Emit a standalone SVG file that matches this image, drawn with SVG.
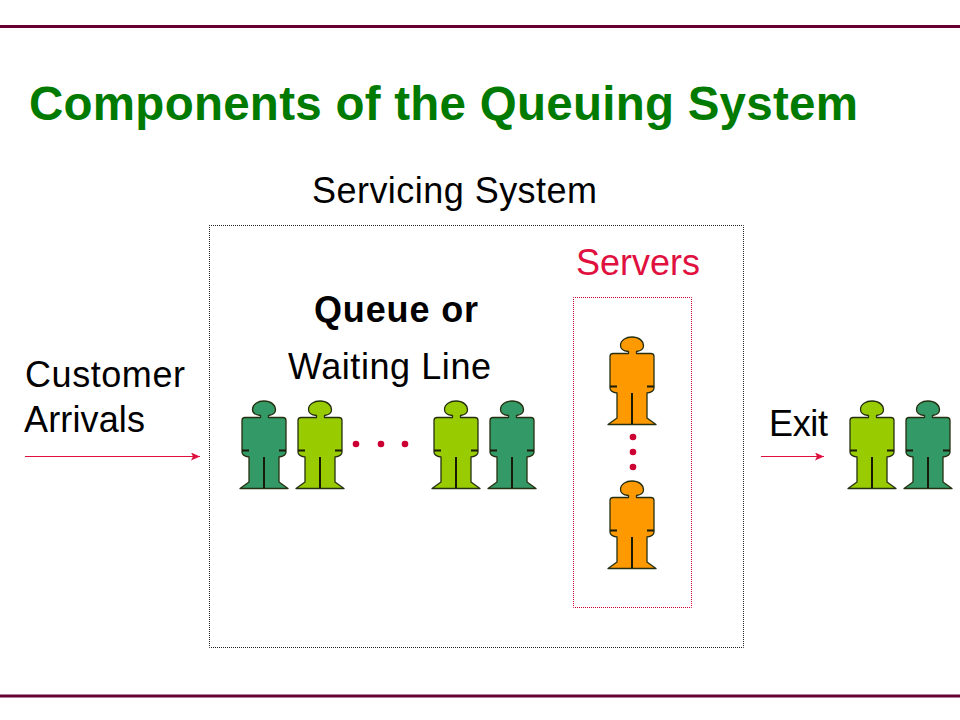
<svg xmlns="http://www.w3.org/2000/svg" width="960" height="720" viewBox="0 0 960 720">
<style>
text{font-family:"Liberation Sans",Arial,sans-serif;font-size:36px;fill:#000}
.rule{stroke:#660033;stroke-width:3;fill:none}
.p{stroke:#263010;stroke-width:1.300;stroke-linejoin:round}
.in{stroke:#1a1a08;stroke-width:2;fill:none}
.g{fill:#339966}.l{fill:#99cc00}.o{fill:#ff9900}
.dot{fill:#cc0033}
.arrow{stroke:#e0103f;stroke-width:1;fill:none;marker-end:url(#ah)}
.frame{fill:none;stroke:#222;stroke-width:1;stroke-dasharray:1 1;stroke-dashoffset:.5}
.frame-red{fill:none;stroke:#cc0033;stroke-width:1;stroke-dasharray:1 1;stroke-dashoffset:.5}
</style>
<defs>
<marker id="ah" markerUnits="userSpaceOnUse" markerWidth="10" markerHeight="8" refX="9" refY="4" orient="auto"><path d="M0 0L9 4L0 8L2 4Z" fill="#e0103f"/></marker>
<g id="person">
<path d="M-3.500 14.500C-9 14-11.500 11.500-11.500 8.500C-11.500 3-6 0 0 0C7 0 11.500 4 11.500 9C11.500 12 8 14 4.500 14.500L4.500 16.500L19 16.500Q22 16.500 22 19.500L22 51Q22 55 15 56L15 81L24 87.500L-24 87.500L-15 81L-15 56Q-22 55-22 51L-22 19.500Q-22 16.500-19 16.500L-3.500 16.500Z"/>
</g>
<g id="lines">
<path d="M0 56V87M-22 49.500H-15M15 49.500H22"/>
</g>
</defs>
<path class="rule" d="M0 26.500H960"/>
<path class="rule" d="M0 696H960"/>
<text id="title" x="29" y="120" textLength="829" style="font-size:47.500px;font-weight:700;fill:#007a00">Components of the Queuing System</text>
<g id="servicing-system">
<rect class="frame" x="209.500" y="225.500" width="534" height="422"/>
<text x="312" y="203" textLength="285">Servicing System</text>
</g>
<g id="queue">
<text x="314" y="322" textLength="164" style="font-weight:700">Queue or</text>
<text x="288" y="379" textLength="203">Waiting Line</text>
<g id="q1"><use href="#person" x="264" y="401" class="p g"/><use href="#lines" x="264" y="401" class="in"/></g>
<g id="q2"><use href="#person" x="320" y="401" class="p l"/><use href="#lines" x="320" y="401" class="in"/></g>
<circle class="dot" cx="356" cy="444" r="3.300"/><circle class="dot" cx="381" cy="444" r="3.300"/><circle class="dot" cx="405" cy="444" r="3.300"/>
<g id="q3"><use href="#person" x="456" y="401" class="p l"/><use href="#lines" x="456" y="401" class="in"/></g>
<g id="q4"><use href="#person" x="512" y="401" class="p g"/><use href="#lines" x="512" y="401" class="in"/></g>
</g>
<g id="servers">
<text x="576" y="275" textLength="124" style="fill:#e0103f">Servers</text>
<rect class="frame-red" x="573.500" y="297.500" width="118" height="310"/>
<g id="s1"><use href="#person" x="632" y="337" class="p o"/><use href="#lines" x="632" y="337" class="in"/></g>
<circle class="dot" cx="633" cy="437" r="3.300"/><circle class="dot" cx="633" cy="452" r="3.300"/><circle class="dot" cx="633" cy="467" r="3.300"/>
<g id="s2"><use href="#person" x="632" y="481" class="p o"/><use href="#lines" x="632" y="481" class="in"/></g>
</g>
<g id="arrivals">
<text x="25" y="387" textLength="160">Customer</text>
<text x="24" y="432" textLength="121">Arrivals</text>
</g>
<g id="exit">
<text x="769" y="436" textLength="59">Exit</text>
<g id="e1"><use href="#person" x="872" y="401" class="p l"/><use href="#lines" x="872" y="401" class="in"/></g>
<g id="e2"><use href="#person" x="928" y="401" class="p g"/><use href="#lines" x="928" y="401" class="in"/></g>
</g>
<g id="connectors">
<path class="arrow" d="M25 456.500H200"/>
<path class="arrow" d="M761 456.500H824"/>
</g>
</svg>
